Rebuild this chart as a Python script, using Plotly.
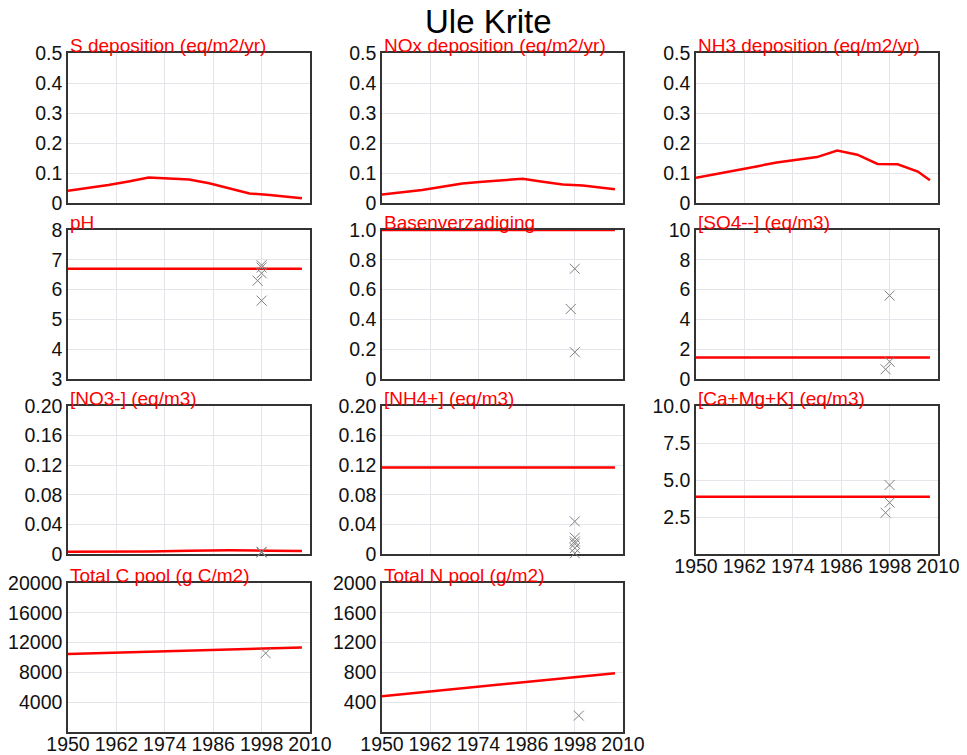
import plotly.graph_objects as go

# ---------------- data ----------------
years_S = [1950, 1955, 1960, 1965, 1970, 1975, 1980, 1985, 1990, 1995, 2000, 2005, 2008]
S_dep = [0.041, 0.050, 0.060, 0.072, 0.085, 0.082, 0.078, 0.066, 0.048, 0.032, 0.027, 0.020, 0.016]

years_NOx = [1950, 1955, 1960, 1965, 1970, 1975, 1980, 1985, 1990, 1995, 2000, 2005, 2008]
NOx_dep = [0.028, 0.036, 0.043, 0.054, 0.065, 0.071, 0.076, 0.081, 0.071, 0.062, 0.058, 0.051, 0.046]

years_NH3 = [1950, 1955, 1960, 1965, 1970, 1975, 1980, 1985, 1990, 1995, 2000, 2005, 2008]
NH3_dep = [0.084, 0.096, 0.108, 0.122, 0.135, 0.144, 0.153, 0.175, 0.161, 0.130, 0.129, 0.105, 0.076]

years_const = [1950, 2008]
pH_model = [6.7, 6.7]
BS_model = [1.0, 1.0]
SO4_model = [1.45, 1.45]
NH4_model = [0.117, 0.117]
CaMgK_model = [3.87, 3.87]

years_NO3 = [1950, 1960, 1970, 1980, 1985, 1990, 2000, 2008]
NO3_model = [0.003, 0.003, 0.0035, 0.0045, 0.005, 0.005, 0.0045, 0.004]

years_pool = [1950, 1970, 1990, 2008]
C_model = [10480, 10780, 11080, 11350]
N_model = [480, 585, 690, 790]

pH_obs_years = [1998, 1998, 1998, 1997, 1998]
pH_obs = [6.82, 6.74, 6.55, 6.30, 5.63]
BS_obs_years = [1998, 1997, 1998]
BS_obs = [0.74, 0.47, 0.18]
SO4_obs_years = [1998, 1998, 1997]
SO4_obs = [5.6, 1.16, 0.65]
NO3_obs_years = [1998, 1998]
NO3_obs = [0.002, 0.003]
NH4_obs_years = [1998, 1998, 1998, 1998, 1998, 1998]
NH4_obs = [0.044, 0.022, 0.017, 0.014, 0.008, 0.001]
CaMgK_obs_years = [1998, 1998, 1997]
CaMgK_obs = [4.66, 3.47, 2.79]
C_obs_years = [1999]
C_obs = [10580]
N_obs_years = [1999]
N_obs = [220]

x_ticks = [1950, 1962, 1974, 1986, 1998, 2010]

titles = ["S deposition (eq/m2/yr)", "NOx deposition (eq/m2/yr)", "NH3 deposition (eq/m2/yr)",
          "pH", "Basenverzadiging", "[SO4--] (eq/m3)",
          "[NO3-] (eq/m3)", "[NH4+] (eq/m3)", "[Ca+Mg+K] (eq/m3)",
          "Total C pool (g C/m2)", "Total N pool (g/m2)"]

dep_ticks = [0, 0.1, 0.2, 0.3, 0.4, 0.5]
dep_text = ["0", "0.1", "0.2", "0.3", "0.4", "0.5"]
pH_ticks = [3, 4, 5, 6, 7, 8]
BS_ticks = [0, 0.2, 0.4, 0.6, 0.8, 1.0]
BS_text = ["0", "0.2", "0.4", "0.6", "0.8", "1.0"]
SO4_ticks = [0, 2, 4, 6, 8, 10]
N_conc_ticks = [0, 0.04, 0.08, 0.12, 0.16, 0.20]
N_conc_text = ["0", "0.04", "0.08", "0.12", "0.16", "0.20"]
CaMgK_ticks = [2.5, 5.0, 7.5, 10.0]
CaMgK_text = ["2.5", "5.0", "7.5", "10.0"]
C_ticks = [4000, 8000, 12000, 16000, 20000]
Npool_ticks = [400, 800, 1200, 1600, 2000]

panels = [
    # (row, col, model_x, model_y, obs_x, obs_y, yrange, tickvals, ticktext, show_x)
    (0, 0, years_S, S_dep, None, None, [0, 0.5], dep_ticks, dep_text, False),
    (0, 1, years_NOx, NOx_dep, None, None, [0, 0.5], dep_ticks, dep_text, False),
    (0, 2, years_NH3, NH3_dep, None, None, [0, 0.5], dep_ticks, dep_text, False),
    (1, 0, years_const, pH_model, pH_obs_years, pH_obs, [3, 8], pH_ticks, [str(v) for v in pH_ticks], False),
    (1, 1, years_const, BS_model, BS_obs_years, BS_obs, [0, 1], BS_ticks, BS_text, False),
    (1, 2, years_const, SO4_model, SO4_obs_years, SO4_obs, [0, 10], SO4_ticks, [str(v) for v in SO4_ticks], False),
    (2, 0, years_NO3, NO3_model, NO3_obs_years, NO3_obs, [0, 0.2], N_conc_ticks, N_conc_text, False),
    (2, 1, years_const, NH4_model, NH4_obs_years, NH4_obs, [0, 0.2], N_conc_ticks, N_conc_text, False),
    (2, 2, years_const, CaMgK_model, CaMgK_obs_years, CaMgK_obs, [0, 10], CaMgK_ticks, CaMgK_text, True),
    (3, 0, years_pool, C_model, C_obs_years, C_obs, [0, 20000], C_ticks, [str(v) for v in C_ticks], True),
    (3, 1, years_pool, N_model, N_obs_years, N_obs, [0, 2000], Npool_ticks, [str(v) for v in Npool_ticks], True),
]

# ---------------- layout geometry ----------------
W, H = 967, 755
OFF = 8  # page body margin offset
col_px = [(68, 310), (382, 623), (696, 938)]
row_px = [(53, 203), (230, 379), (406, 554), (583, 732)]
FONT = "Liberation Sans, Arial, sans-serif"
TICKFONT = dict(size=19.5, family=FONT, color="#111")

fig = go.Figure()
layout = dict(
    width=W, height=H, margin=dict(l=0, r=0, t=0, b=0, pad=0, autoexpand=False),
    paper_bgcolor="white", plot_bgcolor="white", showlegend=False,
    font=dict(family=FONT, size=18, color="#111"),
)
annotations = []

for i, (r, c, mx, my, ox, oy, yr, tv, tt, showx) in enumerate(panels):
    n = i + 1
    xa = "x" if n == 1 else f"x{n}"
    ya = "y" if n == 1 else f"y{n}"
    x0, x1 = col_px[c]
    y0, y1 = row_px[r]
    xdom = [(x0 - OFF) / W, (x1 - OFF) / W]
    ydom = [1 - (y1 - OFF) / H, 1 - (y0 - OFF) / H]
    layout["xaxis" if n == 1 else f"xaxis{n}"] = dict(
        domain=xdom, anchor=ya, range=[1950, 2010], tickvals=x_ticks,
        ticktext=[str(v) for v in x_ticks], showticklabels=showx,
        showgrid=True, gridcolor="#e4e4ea", gridwidth=1,
        showline=True, linecolor="#333", linewidth=1.5, mirror=True,
        ticks="", ticklen=0, ticklabelstandoff=-6, zeroline=False, fixedrange=True,
        layer="below traces", automargin=False, tickfont=TICKFONT,
    )
    layout["yaxis" if n == 1 else f"yaxis{n}"] = dict(
        domain=ydom, anchor=xa, range=yr, tickvals=tv, ticktext=tt,
        showgrid=True, gridcolor="#e4e4ea", gridwidth=1,
        showline=True, linecolor="#333", linewidth=1.5, mirror=True,
        ticks="", ticklen=0, zeroline=False, fixedrange=True, layer="below traces",
        automargin=False, tickfont=TICKFONT,
    )
    fig.add_trace(go.Scatter(x=mx, y=my, mode="lines", xaxis=xa, yaxis=ya,
                             line=dict(color="#ff0000", width=2.5)))
    if ox is not None:
        fig.add_trace(go.Scatter(x=ox, y=oy, mode="markers", xaxis=xa, yaxis=ya,
                                 cliponaxis=False,
                                 marker=dict(symbol="x-thin-open", size=10, color="#808080",
                                             line=dict(color="#808080", width=1))))
    annotations.append(dict(
        text=titles[i], x=xdom[0], y=ydom[1], xref="paper", yref="paper",
        xanchor="left", yanchor="bottom", yshift=-5, showarrow=False,
        font=dict(color="#ff0000", size=19, family=FONT),
    ))

annotations.append(dict(text="Ule Krite", x=(488 - OFF) / W, y=1 - (21.5 - OFF) / H,
                        xref="paper", yref="paper",
                        xanchor="center", yanchor="middle", showarrow=False,
                        font=dict(size=33, family=FONT, color="#000")))
layout["annotations"] = annotations
fig.update_layout(**layout)
fig.write_html("out.html")
